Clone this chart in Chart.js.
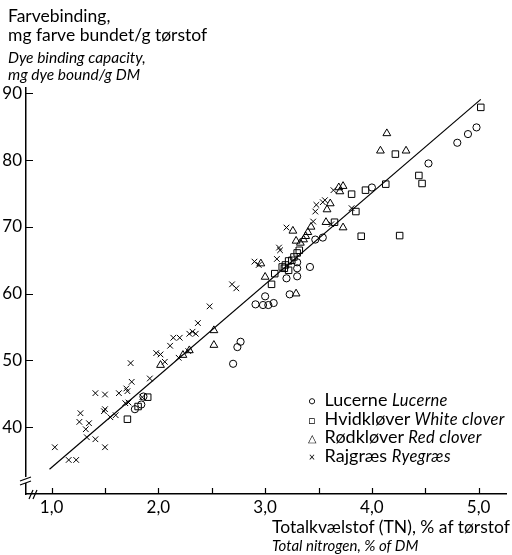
<!DOCTYPE html>
<html>
<head>
<meta charset="utf-8">
<script src="https://cdn.jsdelivr.net/npm/chart.js@4/dist/chart.umd.min.js"></script>
<style>
    body { margin: 0; background: #fff; }
    #wrap { position: relative; width: 512px; height: 555px; font-family: Lato, "Open Sans", sans-serif; color: #000; }
    #chart { position: absolute; left: 0; top: 0; }
    .txt { position: absolute; white-space: nowrap; line-height: 20px; height: 20px; }
    .big { font-size: 17.5px; }
    .small { font-size: 15.5px; font-style: italic; }
    .legend { position: absolute; left: 304px; top: 389px; }
    .legend div { height: 18.7px; line-height: 20px; white-space: nowrap; font-size: 18px; }
    .legend i { font-size: 16.5px; letter-spacing: 0.3px; }
    .legend .sym { display: inline-block; width: 16px; font-size: 11px; text-align: center; vertical-align: 1px; }
</style>
</head>
<body>
<div id="wrap">
    <canvas id="chart" width="512" height="555"></canvas>
    <div class="txt big" style="left:8px; top:6px;">Farvebinding,</div>
    <div class="txt big" style="left:8px; top:25px;">mg farve bundet/g tørstof</div>
    <div class="txt small" style="left:8px; top:47px;">Dye binding capacity,</div>
    <div class="txt small" style="left:8px; top:64px;">mg dye bound/g DM</div>
    <div class="txt big" style="left:272px; top:517px;">Totalkvælstof (TN), % af tørstof</div>
    <div class="txt small" style="left:272px; top:535px; font-size:15px;">Total nitrogen, % of DM</div>
    <div class="legend">
        <div><span class="sym">○</span> Lucerne <i>Lucerne</i></div>
        <div><span class="sym">□</span> Hvidkløver <i>White clover</i></div>
        <div><span class="sym">△</span> Rødkløver <i>Red clover</i></div>
        <div><span class="sym">×</span> Rajgræs <i>Ryegræs</i></div>
    </div>
</div>
<script>
// ==================== DATA ====================

// [total nitrogen %, dye bound mg/g]
const lucerne = [
    [1.78, 42.7], [1.84, 43.4], [1.86, 44.6], [2.70, 49.5], [2.74, 52.0], [2.77, 52.8],
    [2.91, 58.4], [2.98, 58.3], [3.03, 58.3], [3.08, 58.6], [3.00, 59.6], [3.23, 59.9],
    [3.20, 62.3], [3.30, 62.6], [3.30, 63.8], [3.42, 64.0], [3.30, 64.7], [3.47, 68.1],
    [3.54, 68.4], [4.00, 75.9], [4.53, 79.5], [4.80, 82.6], [4.90, 83.9], [4.98, 84.9]
];

const hvidklover = [
    [1.71, 41.2], [1.81, 43.1], [1.90, 44.5], [3.06, 61.4], [3.09, 63.0], [3.18, 63.8],
    [3.22, 63.5], [3.16, 64.0], [3.19, 64.3], [3.22, 64.9], [3.25, 65.0], [3.27, 65.5],
    [3.30, 66.1], [3.32, 66.5], [3.65, 70.7], [3.81, 74.9], [3.85, 72.3], [3.90, 68.6],
    [3.94, 75.5], [4.13, 76.4], [4.22, 80.9], [4.26, 68.7], [4.44, 77.7], [4.47, 76.5],
    [5.02, 87.9]
];

const rodklover = [
    [2.02, 49.3], [2.23, 50.8], [2.29, 51.5], [2.52, 52.3], [2.52, 54.5], [2.96, 64.5],
    [3.00, 62.5], [3.29, 60.0], [3.26, 69.4], [3.29, 67.9], [3.33, 67.6], [3.36, 68.1],
    [3.38, 68.6], [3.40, 69.2], [3.43, 70.0], [3.57, 70.7], [3.58, 72.6], [3.61, 73.5],
    [3.73, 69.9], [3.69, 75.9], [3.73, 76.1], [3.70, 75.3], [4.08, 81.4], [4.32, 81.4],
    [4.14, 84.0]
];

const rajgraes = [
    [1.03, 37.0], [1.16, 35.1], [1.23, 35.1], [1.27, 42.1], [1.26, 40.8], [1.35, 40.6],
    [1.32, 39.7], [1.33, 38.5], [1.41, 38.2], [1.50, 37.0], [1.41, 45.1], [1.50, 44.9],
    [1.50, 42.7], [1.49, 42.4], [1.55, 41.5], [1.60, 41.8], [1.63, 45.1], [1.70, 45.8],
    [1.71, 45.4], [1.69, 43.6], [1.72, 43.7], [1.75, 46.8], [1.74, 49.6], [1.85, 44.5],
    [1.92, 47.3], [1.98, 51.1], [2.02, 50.9], [2.06, 49.8], [2.11, 52.2], [2.14, 53.4],
    [2.20, 53.4], [2.19, 50.4], [2.28, 51.4], [2.29, 54.0], [2.32, 54.3], [2.35, 54.0],
    [2.37, 55.6], [2.48, 58.1], [2.69, 61.4], [2.73, 60.8], [2.90, 64.8], [2.94, 64.3],
    [3.11, 65.2], [3.13, 66.9], [3.14, 66.5], [3.20, 69.9], [3.45, 70.8], [3.48, 73.3],
    [3.47, 72.3], [3.56, 74.0], [3.54, 73.7], [3.64, 75.5], [3.62, 70.4], [3.81, 72.8]
];

// regression line end points
const fitLine = [[0.98, 33.7], [5.02, 89.1]];

const xTickValues = [1.0, 1.5, 2.0, 2.5, 3.0, 3.5, 4.0, 4.5, 5.0];
const yTickValues = [40, 50, 60, 70, 80, 90];

// ==================== HELPERS ====================

function toPoints(rows) {
    return rows.map(r => ({ x: r[0], y: r[1] }));
}

function markerSet(label, rows, style, radius) {
    return {
        label: label,
        data: toPoints(rows),
        pointStyle: style,
        pointRadius: radius,
        borderColor: '#000',
        backgroundColor: 'rgba(0,0,0,0)',
        borderWidth: 1
    };
}

// short tick marks pointing into the plot, plus the axis breaks
const inwardTicks = {
    id: 'inwardTicks',
    afterDraw(chart) {
        const ctx = chart.ctx;
        const xs = chart.scales.x;
        const ys = chart.scales.y;
        const area = chart.chartArea;
        ctx.save();
        ctx.strokeStyle = '#000';
        ctx.lineWidth = 1.2;
        ctx.beginPath();
        xTickValues.forEach(v => {
            const px = Math.round(xs.getPixelForValue(v)) + 0.5;
            ctx.moveTo(px, area.bottom);
            ctx.lineTo(px, area.bottom - 6);
        });
        yTickValues.forEach(v => {
            const py = Math.round(ys.getPixelForValue(v)) + 0.5;
            ctx.moveTo(area.left, py);
            ctx.lineTo(area.left + 7, py);
        });
        ctx.stroke();

        // break on the y axis
        ctx.fillStyle = '#fff';
        ctx.fillRect(area.left - 3, area.bottom - 17, 6, 6);
        ctx.beginPath();
        ctx.moveTo(area.left - 6, area.bottom - 13);
        ctx.lineTo(area.left + 5, area.bottom - 17);
        ctx.moveTo(area.left - 6, area.bottom - 9);
        ctx.lineTo(area.left + 5, area.bottom - 13);
        // break on the x axis
        ctx.moveTo(area.left + 3, area.bottom + 5);
        ctx.lineTo(area.left + 7, area.bottom - 4);
        ctx.moveTo(area.left + 7, area.bottom + 5);
        ctx.lineTo(area.left + 11, area.bottom - 4);
        ctx.stroke();
        ctx.restore();
    }
};

// ==================== CHART ====================

const ctx = document.getElementById('chart').getContext('2d');

new Chart(ctx, {
    type: 'scatter',
    data: {
        datasets: [
            {
                type: 'line',
                label: 'fit',
                data: toPoints(fitLine),
                borderColor: '#000',
                borderWidth: 1.2,
                pointRadius: 0,
                fill: false
            },
            markerSet('Lucerne', lucerne, 'circle', 3.6),
            markerSet('Hvidkløver', hvidklover, 'rect', 4.6),
            markerSet('Rødkløver', rodklover, 'triangle', 4.5),
            markerSet('Rajgræs', rajgraes, 'crossRot', 4)
        ]
    },
    options: {
        responsive: false,
        animation: false,
        layout: { padding: { top: 88, left: 0, right: 1, bottom: 0 } },
        plugins: {
            legend: { display: false },
            tooltip: { enabled: false }
        },
        scales: {
            x: {
                type: 'linear',
                min: 0.76,
                max: 5.26,
                grid: { display: false, drawTicks: false },
                border: { display: true, color: '#000', width: 1.5 },
                afterBuildTicks: scale => { scale.ticks = xTickValues.map(v => ({ value: v })); },
                afterFit: scale => { scale.height = 61; },
                ticks: {
                    padding: 3,
                    color: '#000',
                    font: { family: 'Lato', size: 17 },
                    callback: v => Number.isInteger(v) ? v.toFixed(1).replace('.', ',') : ''
                }
            },
            y: {
                type: 'linear',
                min: 30,
                max: 90.8,
                grid: { display: false, drawTicks: false },
                border: { display: true, color: '#000', width: 1.5 },
                afterBuildTicks: scale => { scale.ticks = yTickValues.map(v => ({ value: v })); },
                afterFit: scale => { scale.width = 26; },
                ticks: {
                    padding: 4,
                    color: '#000',
                    font: { family: 'Lato', size: 17 }
                }
            }
        }
    },
    plugins: [inwardTicks]
});
</script>
</body>
</html>
